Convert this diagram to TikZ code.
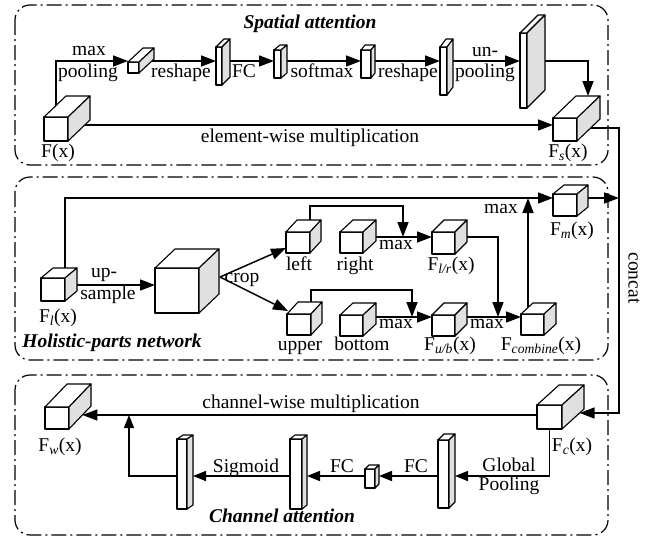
\documentclass[tikz,border=0pt]{standalone}
\usepackage{fontspec}
\setmainfont{Liberation Serif}
\usetikzlibrary{calc,arrows.meta}
\pgfdeclarelayer{bg}
\pgfsetlayers{bg,main}

% a feature block: front face node plus top and side faces
% #1 name, #2 x, #3 y (front top-left), #4 width, #5 height, #6 depth x, #7 depth up
\newcommand{\blockcube}[7]{%
  \node[cubeface, minimum width=#4pt, minimum height=#5pt, anchor=north west] (#1) at (#2,#3) {};
  \draw[cubeedge, fill=white] (#1.north west) -- ++(#6,-#7) -- ++(#4,0) -- (#1.north east) -- cycle;
  \draw[cubeedge, fill=sidegray] (#1.north east) -- ++(#6,-#7) -- ++(0,#5) -- (#1.south east) -- cycle;
  \coordinate (#1-b) at ($(#1.north east)+(#6,-#7)$);
}

\definecolor{sidegray}{gray}{0.88}

\begin{document}
\begin{tikzpicture}[x=1pt,y=-1pt,
  font=\fontsize{19.5}{22}\selectfont,
  cubeedge/.style={line width=1.1pt, line join=round},
  cubeface/.style={draw, cubeedge, fill=white, inner sep=0pt, outer sep=0pt},
  conn/.style={line width=1.5pt},
  arr/.style={conn, -{Triangle[length=15pt,width=11pt]}},
  sarr/.style={conn, -{Triangle[length=13pt,width=10pt]}},
  lbl/.style={inner sep=0pt, anchor=base},
  title/.style={lbl, font=\fontsize{19.5}{22}\selectfont\bfseries\itshape},
  group/.style={line width=1.2pt, rounded corners=15pt,
    dash pattern=on 15pt off 4pt on 2pt off 4pt},
]
\useasboundingbox (0,0) rectangle (650,541);

% group frames
\draw[group] (15,5) rectangle (608,165);
\draw[group] (15,177) rectangle (608,360);
\draw[group] (15,375) rectangle (608,535);

\node[title] (tsp) at (310,28) {Spatial attention};
\node[title] (thp) at (112,347) {Holistic-parts network};
\node[title] (tch) at (282,522) {Channel attention};

% ---- spatial attention blocks
\blockcube{Fx}{44}{117}{24}{24}{22}{21}
\blockcube{mp}{128}{62}{11}{11}{15}{14}
\blockcube{rA}{216}{47}{6}{38}{8}{8}
\blockcube{fA}{274}{50}{7}{28}{6}{5}
\blockcube{sm}{361}{50}{10}{28}{4}{5}
\blockcube{rB}{440}{47}{7}{48}{6}{8}
\blockcube{un}{520}{33}{7}{75}{18}{18}
\blockcube{Fs}{553}{118}{24}{23}{23}{22}

% ---- holistic-parts blocks
\blockcube{Fl}{41}{278}{24}{23}{12}{10}
\blockcube{big}{155}{268}{44}{45}{20}{19}
\blockcube{left}{286}{232}{24}{21}{11}{12}
\blockcube{right}{340}{232}{23}{21}{13}{12}
\blockcube{lr}{432}{232}{23}{22}{12}{12}
\blockcube{upper}{287}{314}{24}{21}{11}{12}
\blockcube{bottom}{340}{315}{23}{21}{13}{12}
\blockcube{ub}{432}{315}{23}{21}{12}{12}
\blockcube{comb}{521}{314}{23}{21}{12}{11}
\blockcube{Fm}{553}{194}{24}{22}{11}{9}

% ---- channel attention blocks
\blockcube{Fc}{537}{405}{25}{24}{22}{20}
\blockcube{Fw}{45}{407}{24}{22}{22}{23}
\blockcube{sC}{438}{440}{11}{68}{6}{6}
\blockcube{sq}{365}{469}{10}{19}{4}{4}
\blockcube{sB}{290}{439}{12}{70}{5}{4}
\blockcube{sA}{177}{439}{10}{70}{6}{4}

% routing levels and junctions
\coordinate (sp) at (0,61);
\coordinate (ew) at (0,125);
\coordinate (cs) at (0,128);
\coordinate (hy) at (0,198);
\coordinate (us) at (0,285);
\coordinate (t1) at (0,206);
\coordinate (t2) at (0,290);
\coordinate (j1) at (403,237);
\coordinate (j2) at (412,317);
\coordinate (j3) at (498,317);
\coordinate (cr) at (619,413);
\coordinate (cw) at (0,415);
\coordinate (gp) at (0,476);
\coordinate (ku) at (129,0);
\coordinate (cropO) at ($(big-b)+(1,28)$);
\coordinate (cup) at ($(comb.north)+(-4.5,0)$);

\begin{pgfonlayer}{bg}
% spatial attention branch
\draw[arr] (Fx.center) |- (mp.west|-sp);
\draw[arr] (mp.center|-sp) -- (rA.west|-sp);
\draw[arr] (rA.center|-sp) -- (fA.west|-sp);
\draw[arr] (fA.center|-sp) -- (sm.west|-sp);
\draw[arr] (sm.center|-sp) -- (rB.west|-sp);
\draw[arr] (rB.center|-sp) -- (un.west|-sp);
\draw[arr] (un.center|-sp) -| ($(Fs-b)+(-12,0)$);
\draw[arr] (Fx.center|-ew) -- (Fs.west|-ew);
% concatenation
\draw[arr] (Fs.center|-cs) -| (cr) -- ($(Fc-b)+(-4.4,28)$);
\draw[arr] (Fm.center|-hy) -- (cr|-hy);
% holistic-parts network
\draw[arr] (Fl.north east) |- (Fm.west|-hy);
\draw[arr] (Fl.center|-us) -- (big.west|-us);
\draw[arr] (cropO) -- ($(left.west)+(0,5.5)$);
\draw[arr] (cropO) -- ($(upper.north west)+(1,-3)$);
\draw[arr] (left.north east) |- (j1|-t1) -- (j1);
\draw[arr] (right.center|-j1) -- (lr.west|-j1);
\draw[arr] (lr.center|-j1) -| (j3);
\draw[arr] (upper.north east) |- (j2|-t2) -- (j2);
\draw[arr] (bottom.center|-j2) -- (ub.west|-j2);
\draw[arr] (ub.center|-j2) -- (comb.west|-j2);
\draw[arr] (cup) -- (cup|-hy);
% channel attention branch
\draw[arr] (Fc.center|-cw) -- ($(Fw-b)+(-8.6,31)$);
\draw[sarr] (Fc.center) |- (sC-b|-gp);
\draw[sarr] (sC.center|-gp) -- (sq-b|-gp);
\draw[sarr] (sq.center|-gp) -- (sB-b|-gp);
\draw[sarr] (sB.center|-gp) -- (sA-b|-gp);
\draw[sarr] (sA.center|-gp) -| (ku|-cw);
\end{pgfonlayer}

% labels: spatial attention
\node[lbl] (l1) at (89,55) {max};
\node[lbl] (l2) at (88,77) {pooling};
\node[lbl] (l3) at (181,77) {reshape};
\node[lbl] (l4) at (244,77) {FC};
\node[lbl] (l5) at (322,77) {softmax};
\node[lbl] (l6) at (408,77) {reshape};
\node[lbl] (l7) at (485,56) {un-};
\node[lbl] (l8) at (485,77) {pooling};
\node[lbl] (l9) at (310,142) {element-wise multiplication};
\node[lbl] (nFx) at (58,157) {F(x)};
\node[lbl] (nFs) at (568,157) {F\textsubscript{\itshape s}(x)};
\node[lbl, rotate=-90, anchor=center] (lcc) at (634,278) {concat};

% labels: holistic-parts network
\node[lbl] (h1) at (104,277) {up-};
\node[lbl] (h2) at (108,299) {sample};
\node[lbl] (h3) at (242,282) {crop};
\node[lbl] (h4) at (299,270) {left};
\node[lbl] (h5) at (355,270) {right};
\node[lbl] (h6) at (396,249) {max};
\node[lbl] (nlr) at (451,270) {F\textsubscript{\itshape l/r}(x)};
\node[lbl] (h7) at (501,213) {max};
\node[lbl] (nFm) at (572,235) {F\textsubscript{\itshape m}(x)};
\node[lbl] (nFl) at (58,322) {F\textsubscript{\itshape l}(x)};
\node[lbl] (h8) at (300,350) {upper};
\node[lbl] (h9) at (362,350) {bottom};
\node[lbl] (h10) at (396,328) {max};
\node[lbl] (nub) at (450,350) {F\textsubscript{\itshape u/b}(x)};
\node[lbl] (h11) at (487,328) {max};
\node[lbl] (ncb) at (541,350) {F\textsubscript{\itshape combine}(x)};

% labels: channel attention
\node[lbl] (c1) at (311,408) {channel-wise multiplication};
\node[lbl] (nFw) at (60,451) {F\textsubscript{\itshape w}(x)};
\node[lbl] (nFc) at (572,451) {F\textsubscript{\itshape c}(x)};
\node[lbl] (c2) at (509,471) {Global};
\node[lbl] (c3) at (509,490) {Pooling};
\node[lbl] (c4) at (416,472) {FC};
\node[lbl] (c5) at (342,472) {FC};
\node[lbl] (c6) at (246,472) {Sigmoid};
\end{tikzpicture}
\end{document}
